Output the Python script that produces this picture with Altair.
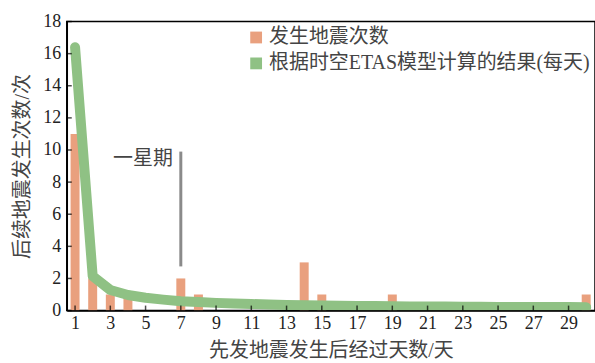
import altair as alt
import pandas as pd

# ---- data ----
days = list(range(1, 31))
etas = [16.4, 2.15, 1.28, 0.97, 0.80, 0.68, 0.58, 0.53, 0.48, 0.44,
        0.41, 0.38, 0.35, 0.33, 0.31, 0.30, 0.29, 0.28, 0.27, 0.26,
        0.25, 0.25, 0.24, 0.24, 0.23, 0.23, 0.22, 0.22, 0.22, 0.21]
bar_days = [1, 2, 3, 4, 7, 8, 14, 15, 19, 30]
bar_counts = [11, 2, 1, 1, 2, 1, 3, 1, 1, 1]
x_ticks = list(range(1, 30, 2))
y_ticks = list(range(0, 19, 2))
series = ["发生地震次数", "根据时空ETAS模型计算的结果(每天)"]
colors = ["#e9a07e", "#8fc184"]
note_day = [7]
note_top = [9.9]
note_bottom = [2.75]
note_text = ["一星期"]
x_domain = [0.53, 30.5]
y_domain = [0, 18]
x_title = "先发地震发生后经过天数/天"
y_title = "后续地震发生次数/次"

NUM = "Liberation Serif, Times New Roman, serif"
SERIF = "Liberation Serif, Noto Sans CJK SC, serif"

bars_df = pd.DataFrame({"day": bar_days, "count": bar_counts, "series": series[0]})
line_df = pd.DataFrame({"day": days, "value": etas})
note_df = pd.DataFrame({"day": note_day, "top": note_top, "bottom": note_bottom, "text": note_text})
xt_df = pd.DataFrame({"t": x_ticks, "base": y_domain[0]})
yt_df = pd.DataFrame({"t": y_ticks, "base": x_domain[0]})

xscale = alt.Scale(domain=x_domain, nice=False, zero=False, padding=0)
yscale = alt.Scale(domain=y_domain, nice=False, padding=0)
common = dict(labelFont=NUM, labelFontSize=18, labelColor="#222",
              labelOverlap=False, labelFlush=False,
              titleFont=SERIF, titleFontSize=20, titleFontWeight="normal", titleColor="#444",
              domainColor="black", domainWidth=1.5, ticks=False, grid=False, zindex=1)
xaxis = alt.Axis(values=x_ticks, title=x_title, labelPadding=4, titlePadding=8, **common)
yaxis = alt.Axis(values=y_ticks, title=y_title, labelPadding=6, titlePadding=10, **common)

bars = alt.Chart(bars_df).mark_bar(size=9, opacity=1).encode(
    x=alt.X("day:Q", scale=xscale, axis=xaxis),
    y=alt.Y("count:Q", scale=yscale, axis=yaxis),
    color=alt.Color("series:N", scale=alt.Scale(domain=series, range=colors),
                    legend=alt.Legend(title=None, orient="none", legendX=180, legendY=6,
                                      symbolType="square", symbolSize=140,
                                      symbolStrokeWidth=0, labelFont=SERIF,
                                      labelFontSize=20, labelColor="#444", labelLimit=0,
                                      labelOffset=3, rowPadding=6, padding=0)),
)

line = alt.Chart(line_df).mark_line(strokeWidth=10, strokeCap="round",
                                    strokeJoin="round", clip=True, color=colors[1]).encode(
    x=alt.X("day:Q", scale=xscale, axis=xaxis),
    y=alt.Y("value:Q", scale=yscale, axis=yaxis),
)

rule = alt.Chart(note_df).mark_rule(color="#8a8a8a", strokeWidth=3).encode(
    x=alt.X("day:Q", axis=xaxis), y=alt.Y("top:Q", axis=yaxis), y2="bottom:Q"
)
note = alt.Chart(note_df).mark_text(font=SERIF, fontSize=20, color="#444",
                                    align="right", baseline="top", dx=-8, dy=-3).encode(
    x=alt.X("day:Q", axis=xaxis), y=alt.Y("top:Q", axis=yaxis), text="text:N"
)

xticks = alt.Chart(xt_df).mark_tick(orient="vertical", size=5, thickness=1.5,
                                     color="black", yOffset=-2.5).encode(
    x=alt.X("t:Q", axis=xaxis), y=alt.Y("base:Q", axis=yaxis)
)
yticks = alt.Chart(yt_df).mark_tick(orient="horizontal", size=5, thickness=1.5,
                                     color="black", xOffset=2.5).encode(
    y=alt.Y("t:Q", axis=yaxis), x=alt.X("base:Q", axis=xaxis)
)

chart = alt.layer(bars, line, rule, note, xticks, yticks).properties(
    width=530, height=290,
    autosize=alt.AutoSizeParams(type="none"),
    padding={"left": 67, "top": 21, "right": 0, "bottom": 52},
).configure_view(
    stroke="black", strokeWidth=1.5
)

chart.save("out.html", embed_options={"renderer": "svg", "actions": False})
